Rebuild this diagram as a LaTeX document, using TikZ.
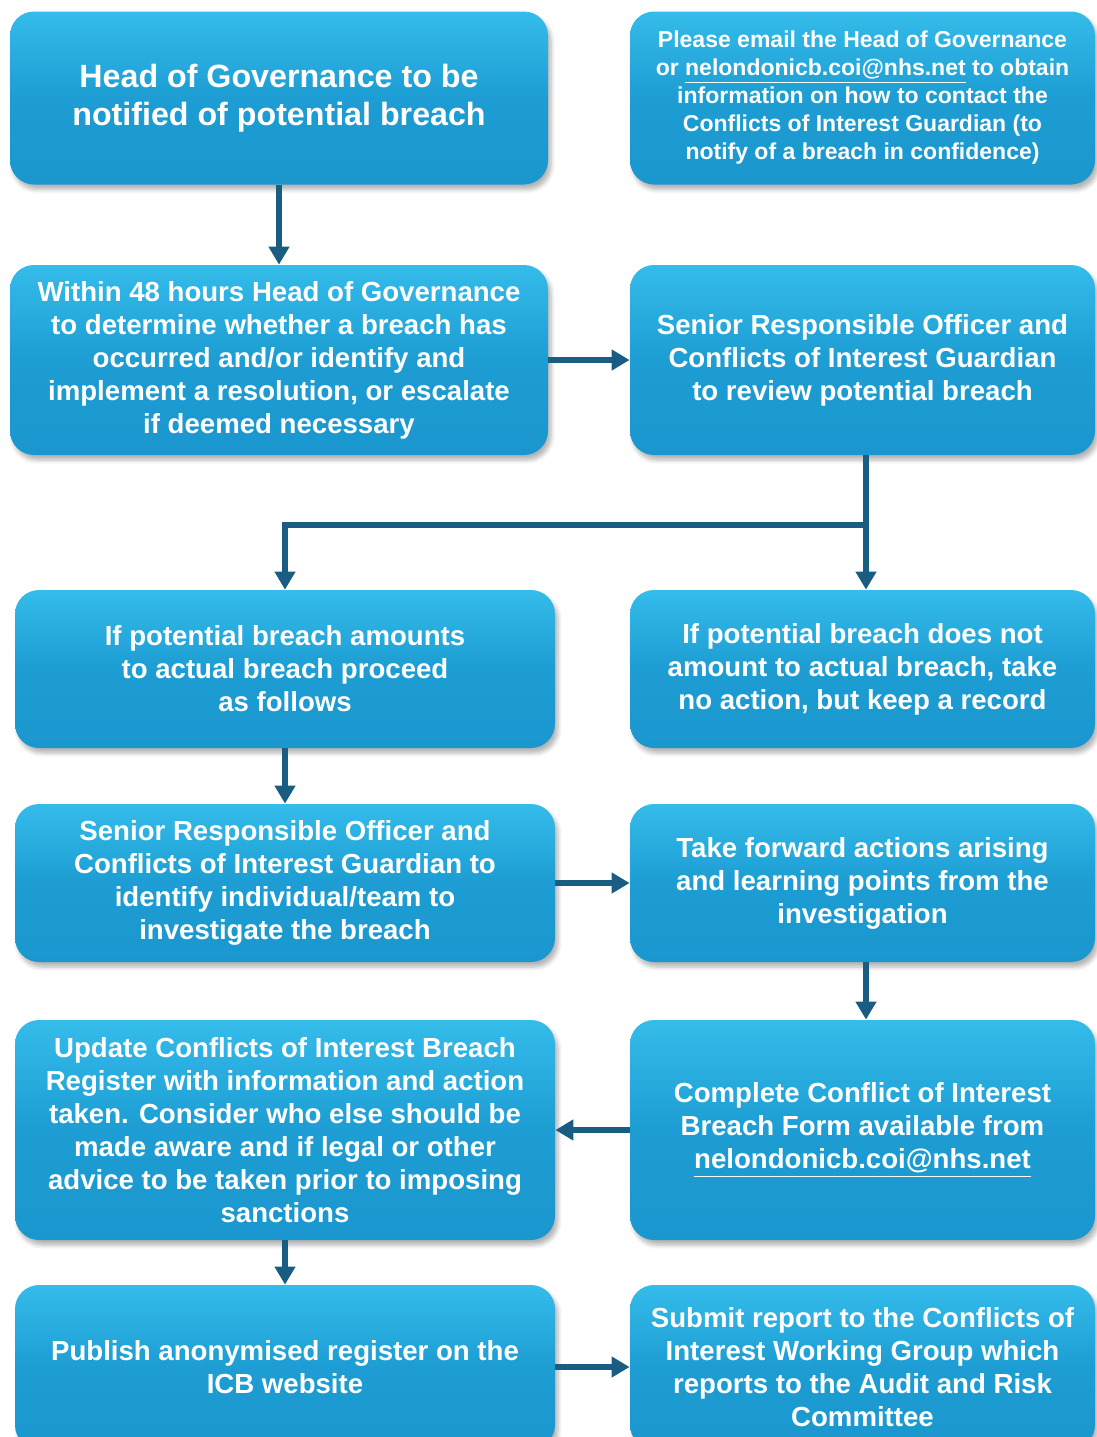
\documentclass[tikz,border=0pt]{standalone}
\usepackage{fontspec}
\setmainfont{Liberation Sans}
\usetikzlibrary{arrows.meta,shadows.blur}
\definecolor{boxtop}{HTML}{34BCEA}
\definecolor{boxfill}{HTML}{1D9DD3}
\definecolor{boxbot}{HTML}{1A97CE}
\definecolor{flowline}{HTML}{1A5D82}
\begin{document}
\begin{tikzpicture}[x=0.5pt,y=-0.5pt,
  stepbox/.style={rounded corners=12pt, top color=boxtop, bottom color=boxbot,
    middle color=boxfill, shading angle=0, text=white, align=center,
    font=\bfseries\fontsize{13.8}{16.5}\selectfont, inner sep=0pt,
    blur shadow={shadow xshift=1.5pt, shadow yshift=-2.5pt, shadow opacity=30, shadow blur steps=6}},
  leftbox/.style={stepbox, minimum width=270pt},
  rightbox/.style={stepbox, minimum width=232.5pt},
  flow/.style={draw=flowline, line width=3pt, -{Triangle[length=9pt,width=10pt]}}]
  \useasboundingbox (0,0) rectangle (1097,1437);
  \node[leftbox, minimum width=269pt, minimum height=86.5pt,
    font=\bfseries\fontsize{16.1}{19}\selectfont] (notify) at (279,98)
    {Head of Governance to be\\notified of potential breach};
  \node[rightbox, minimum height=86.5pt, font=\bfseries\fontsize{11.5}{14}\selectfont] (email) at (862.5,98)
    {Please email the Head of Governance\\or \underline{nelondonicb.coi@nhs.net} to obtain\\information on how to contact the\\Conflicts of Interest Guardian (to\\notify of a breach in confidence)};
  \node[leftbox, minimum width=269pt, minimum height=95pt] (within) at (279,360)
    {Within 48 hours Head of Governance\\to determine whether a breach has\\occurred and/or identify and\\implement a resolution, or escalate\\if deemed necessary};
  \node[rightbox, minimum height=95pt] (review) at (862.5,360)
    {Senior Responsible Officer and\\Conflicts of Interest Guardian\\to review potential breach};
  \node[leftbox, minimum height=79pt] (actual) at (285,669)
    {If potential breach amounts\\to actual breach proceed\\as follows};
  \node[rightbox, minimum height=79pt] (noaction) at (862.5,669)
    {If potential breach does not\\amount to actual breach, take\\no action, but keep a record};
  \node[leftbox, minimum height=79pt] (identify) at (285,883)
    {Senior Responsible Officer and\\Conflicts of Interest Guardian to\\identify individual/team to\\investigate the breach};
  \node[rightbox, minimum height=79pt] (forward) at (862.5,883)
    {Take forward actions arising\\and learning points from the\\investigation};
  \node[leftbox, minimum height=110pt] (update) at (285,1130)
    {Update Conflicts of Interest Breach\\Register with information and action\\taken. Consider who else should be\\made aware and if legal or other\\advice to be taken prior to imposing\\sanctions};
  \node[rightbox, minimum height=110pt] (form) at (862.5,1130)
    {Complete Conflict of Interest\\Breach Form available from\\\underline{nelondonicb.coi@nhs.net}};
  \node[leftbox, minimum height=82pt] (publish) at (285,1367)
    {Publish anonymised register on the\\ICB website};
  \node[rightbox, minimum height=82pt] (submit) at (862.5,1367)
    {Submit report to the Conflicts of\\Interest Working Group which\\reports to the Audit and Risk\\Committee};
  \coordinate (split) at (866,525);
  \draw[flow] (notify) -- (within);
  \draw[flow] (within) -- (review);
  \draw[flow] (review.south -| split) -- (noaction.north -| split);
  \draw[flow] (split) -| (actual);
  \draw[flow] (actual) -- (identify);
  \draw[flow] (identify.east) -- (forward.west |- identify.east);
  \draw[flow] (forward.south -| split) -- (form.north -| split);
  \draw[flow] (form) -- (update);
  \draw[flow] (update) -- (publish);
  \draw[flow] (publish.east) -- (submit.west |- publish.east);
\end{tikzpicture}
\end{document}
